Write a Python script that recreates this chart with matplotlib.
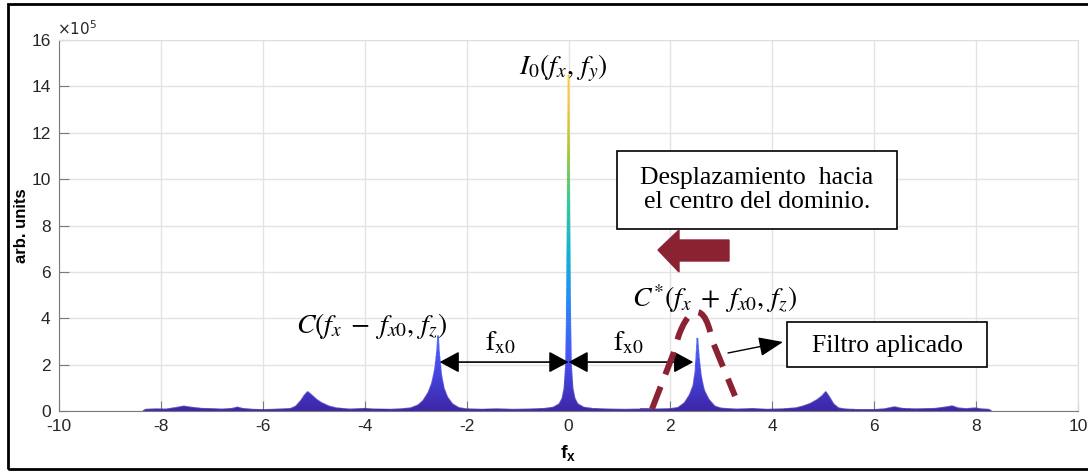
import numpy as np
import matplotlib.pyplot as plt
from matplotlib.colors import LinearSegmentedColormap
from matplotlib.patches import Polygon, Rectangle, PathPatch
from matplotlib.path import Path
from matplotlib.collections import LineCollection

W, H = 1088, 471

# espectro (amplitud en unidades de 1e5)
fx = [-8.35, -8.3, -8.1, -7.9, -7.7, -7.55, -7.4, -7.2, -7.0, -6.8, -6.6, -6.5,
      -6.4, -6.2, -6.0, -5.8, -5.6, -5.45, -5.35, -5.25, -5.18, -5.12, -5.05,
      -4.95, -4.85, -4.7, -4.55, -4.3, -4.0, -3.8, -3.5, -3.3, -3.1, -2.95,
      -2.85, -2.75, -2.68, -2.62, -2.58, -2.56, -2.54, -2.5, -2.45, -2.38,
      -2.28, -2.15, -2.0, -1.7, -1.4, -1.1, -0.8, -0.5, -0.3, -0.18, -0.12,
      -0.08, -0.05, -0.035, -0.02, -0.008, 0.0, 0.008, 0.02, 0.035, 0.05, 0.08,
      0.12, 0.18, 0.3, 0.5, 0.8, 1.1, 1.4, 1.7, 2.0, 2.15, 2.28, 2.38, 2.45,
      2.49, 2.51, 2.53, 2.56, 2.6, 2.66, 2.75, 2.87, 3.0, 3.3, 3.6, 3.9, 4.2,
      4.45, 4.6, 4.75, 4.88, 4.98, 5.05, 5.12, 5.2, 5.3, 5.45, 5.7, 6.0, 6.2,
      6.4, 6.55, 6.8, 7.0, 7.2, 7.4, 7.53, 7.65, 7.8, 7.98, 8.1, 8.25, 8.3]
amp = [0.0, 0.06, 0.08, 0.07, 0.14, 0.2, 0.15, 0.1, 0.09, 0.07, 0.1, 0.16,
       0.1, 0.06, 0.05, 0.06, 0.08, 0.1, 0.2, 0.45, 0.68, 0.83, 0.7,
       0.5, 0.35, 0.2, 0.12, 0.07, 0.1, 0.07, 0.06, 0.08, 0.12, 0.25,
       0.45, 0.8, 1.2, 1.8, 2.6, 3.25, 2.5, 1.6, 1.0, 0.6,
       0.3, 0.13, 0.08, 0.06, 0.08, 0.06, 0.07, 0.09, 0.15, 0.3, 0.55,
       1.0, 2.0, 4.0, 8.0, 12.5, 14.5, 12.5, 8.0, 4.0, 2.0, 1.0,
       0.55, 0.3, 0.15, 0.09, 0.07, 0.06, 0.07, 0.07, 0.09, 0.14, 0.35, 0.7, 1.1,
       1.7, 2.4, 3.15, 2.3, 1.5, 0.9, 0.5, 0.2, 0.11, 0.07, 0.09, 0.06, 0.08,
       0.12, 0.2, 0.32, 0.48, 0.65, 0.83, 0.6, 0.3, 0.12, 0.07, 0.05, 0.05, 0.08,
       0.17, 0.1, 0.08, 0.09, 0.1, 0.16, 0.21, 0.12, 0.09, 0.12, 0.08, 0.06, 0.0]

xticks = list(range(-10, 11, 2))
yticks = list(range(0, 17, 2))

parula = LinearSegmentedColormap.from_list('parula', [
    (0.2422, 0.1504, 0.6603), (0.2810, 0.3228, 0.9579), (0.1786, 0.5289, 0.9682),
    (0.0689, 0.6948, 0.8394), (0.2161, 0.7843, 0.5923), (0.6720, 0.7793, 0.2227),
    (0.9970, 0.7659, 0.2199), (0.9604, 0.8963, 0.1507), (0.9769, 0.9839, 0.0805)])
cmax = 18.0

plt.rcParams['font.family'] = ['Liberation Sans', 'DejaVu Sans']
plt.rcParams['axes.unicode_minus'] = False
plt.rcParams['mathtext.fontset'] = 'custom'
plt.rcParams['mathtext.rm'] = 'Liberation Sans'
plt.rcParams['mathtext.it'] = 'Liberation Sans:italic'
plt.rcParams['mathtext.bf'] = 'Liberation Sans:bold'

fig = plt.figure(figsize=(W / 100, H / 100), dpi=100)
ax = fig.add_axes([59 / W, 1 - 411 / H, (1078 - 59) / W, (411 - 40) / H])


def fp(x, y):
    # pixel de la imagen -> fraccion de figura
    return x / W, 1 - y / H


# area rellena con degradado tipo parula
verts = list(zip(fx, amp)) + [(fx[-1], 0), (fx[0], 0)]
patch = Polygon(verts, closed=True, facecolor='none', edgecolor='none')
ax.add_patch(patch)
grad = np.linspace(0, 1, 400).reshape(-1, 1)
im = ax.imshow(grad, extent=[-10, 10, 0, cmax], origin='lower', aspect='auto',
               cmap=parula, interpolation='bilinear', zorder=2)
im.set_clip_path(patch)
# contorno coloreado por altura (se trocea cada tramo solo para el color)
segs, cols = [], []
for i in range(len(fx) - 1):
    xs = np.linspace(fx[i], fx[i + 1], 16)
    ys = np.linspace(amp[i], amp[i + 1], 16)
    for j in range(15):
        segs.append([(xs[j], ys[j]), (xs[j + 1], ys[j + 1])])
        cols.append((ys[j] + ys[j + 1]) / 2 / cmax)
lc = LineCollection(segs, colors=parula(cols), linewidths=1.1, zorder=2)
ax.add_collection(lc)

ax.set_xlim(-10, 10)
ax.set_ylim(0, 16)
ax.set_xticks(xticks)
ax.set_yticks(yticks)
ax.grid(True, color='#e3e3e3', lw=1)
ax.set_axisbelow(True)
for s in ['left', 'bottom']:
    ax.spines[s].set_color('#7a7a7a')
for s in ['top', 'right']:
    ax.spines[s].set_color('#dedede')
ax.tick_params(direction='in', length=7, color='#7a7a7a', labelcolor='#262626',
               labelsize=12.5, pad=6)
ax.set_xlabel(r'$\mathbf{f_x}$', fontsize=14)
ax.xaxis.set_label_coords(0.5, -0.085)
ax.set_ylabel('arb. units', fontsize=12, fontweight='bold')
ax.yaxis.set_label_coords(-0.029, 0.5)
fig.text(*fp(57, 29), r'$\times10^5$', fontsize=11, color='#262626',
         va='center', ha='left', math_fontfamily='dejavusans')

# anotaciones
ax.text(-0.1, 14.8, r'$I_0(f_x,\,f_y)$', fontsize=20, ha='center', va='center',
        math_fontfamily='stix')
ax.text(-3.86, 3.67, r'$C(f_x\;-\;f_{x0},\,f_z)$', fontsize=20, ha='center',
        va='center', math_fontfamily='stix')
ax.text(2.86, 4.87, r'$C^{*}(f_x\;+\;f_{x0},\,f_z)$', fontsize=20, ha='center',
        va='center', math_fontfamily='stix')
for a, b in [(-2.53, 0.0), (0.0, 2.45)]:
    ax.annotate('', xy=(a, 2.11), xytext=(b, 2.11),
                arrowprops=dict(arrowstyle='<|-|>,head_length=0.5,head_width=0.27',
                                mutation_scale=24, color='black', lw=1.2,
                                shrinkA=0, shrinkB=0), zorder=4)
ax.text(-1.34, 2.93, r'$\mathrm{f_{x0}}$', fontsize=20, ha='center', va='center',
        math_fontfamily='stix')
ax.text(1.17, 2.93, r'$\mathrm{f_{x0}}$', fontsize=20, ha='center', va='center',
        math_fontfamily='stix')

# cuadros de texto
fig.patches.append(Rectangle(fp(617, 229), 280 / W, 78 / H, transform=fig.transFigure,
                             facecolor='white', edgecolor='black', lw=1.2, zorder=5))
fig.text(*fp(757, 190), 'Desplazamiento  hacia\nel centro del dominio.',
         family=['Liberation Serif'], fontsize=18.5, ha='center', va='center',
         linespacing=1.1, zorder=6)
fig.patches.append(Rectangle(fp(787, 367), 200 / W, 45 / H, transform=fig.transFigure,
                             facecolor='white', edgecolor='black', lw=1.2, zorder=5))
fig.text(*fp(887, 346), 'Filtro aplicado', family=['Liberation Serif'],
         fontsize=18.5, ha='center', va='center', zorder=6)

# flecha granate
red = '#8b2232'
arrow_px = [(658, 250), (679, 230), (679, 240), (729, 240), (729, 261), (679, 261), (679, 272)]
fig.patches.append(Polygon([fp(x, y) for x, y in arrow_px], closed=True,
                           transform=fig.transFigure, facecolor=red, edgecolor=red,
                           zorder=5))

# elipse discontinua del filtro
arc_px = [(652, 409), (674, 352), (683, 312), (703, 292), (712, 340), (735, 396)]
codes = [Path.MOVETO, Path.LINETO, Path.CURVE4, Path.CURVE4, Path.CURVE4, Path.LINETO]
fig.patches.append(PathPatch(Path([fp(x, y) for x, y in arc_px], codes),
                             transform=fig.transFigure, facecolor='none',
                             edgecolor=red, lw=4.3, linestyle=(0, (4, 2.2)),
                             capstyle='butt', zorder=5))

# flecha pequena hacia el cuadro
ax.annotate('', xy=fp(783, 342), xytext=fp(728, 353), xycoords='figure fraction',
            textcoords='figure fraction',
            arrowprops=dict(arrowstyle='-|>,head_length=0.75,head_width=0.3',
                            mutation_scale=20, color='black', lw=1.0,
                            shrinkA=0, shrinkB=0))

# marco exterior
fig.patches.append(Rectangle(fp(8, 469), 1.2, (469 - 4) / H, transform=fig.transFigure,
                             facecolor='none', edgecolor='black', lw=2, zorder=10))

fig.savefig('out.png', dpi=100)
